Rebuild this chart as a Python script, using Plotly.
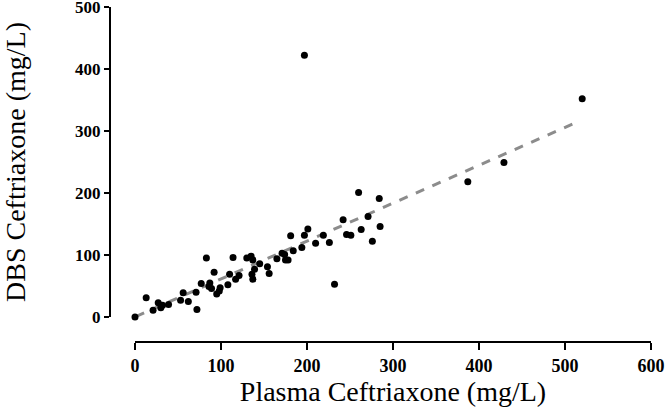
import plotly.graph_objects as go

# Scatter data: plasma vs DBS ceftriaxone (mg/L)
plasma = [0, 13, 21, 27, 30, 32, 39, 53, 56, 62, 71, 72, 77, 83, 86, 87, 89, 92, 95, 98,
          99, 108, 110, 114, 117, 121, 130, 135, 136, 137, 137, 139, 145, 154, 156, 165,
          171, 174, 175, 178, 181, 184, 194, 197, 197, 201, 210, 219, 226, 232, 242, 246,
          251, 260, 263, 271, 276, 284, 285, 387, 429, 520]
dbs = [0, 31, 11, 23, 15, 19, 20, 27, 39, 25, 40, 12, 54, 95, 49, 55, 46, 72, 37, 42,
       47, 52, 69, 96, 61, 67, 95, 98, 69, 92, 61, 77, 86, 81, 70, 94,
       103, 101, 92, 92, 131, 107, 112, 132, 422, 142, 119, 132, 120, 53, 157, 133,
       132, 201, 141, 162, 122, 191, 146, 218, 249, 352]

# Regression line end points
fit_x = [1, 515]
fit_y = [0.8, 315]

x_ticks = [0, 100, 200, 300, 400, 500, 600]
y_ticks = [0, 100, 200, 300, 400, 500]

fig = go.Figure()
fig.add_trace(go.Scatter(x=fit_x, y=fit_y, mode="lines",
                         line=dict(color="#8c8c8c", width=3, dash="dash"),
                         hoverinfo="skip", showlegend=False))
fig.add_trace(go.Scatter(x=plasma, y=dbs, mode="markers",
                         marker=dict(color="black", size=7),
                         cliponaxis=False, showlegend=False))

W, H = 666, 414
left, right, top, bottom = 110, 15, 7, 72
pw, ph = W - left - right, H - top - bottom
x0_px, y0_px = 135, 317
serif = "Liberation Serif, Times New Roman, serif"

fig.update_layout(
    width=W, height=H,
    margin=dict(l=left, r=right, t=top, b=bottom, pad=0, autoexpand=False),
    paper_bgcolor="white", plot_bgcolor="white",
    font=dict(family=serif, color="black"),
    xaxis=dict(
        domain=[(x0_px - left) / pw, 1], anchor="free", position=0, automargin=False,
        range=[0, 600], tickvals=x_ticks, ticktext=[f"<b>{v}</b>" for v in x_ticks],
        showgrid=False, zeroline=False, showline=True, linecolor="black", linewidth=2,
        ticks="outside", ticklen=7, tickwidth=2, tickcolor="black",
        ticklabeloverflow="allow",
        tickfont=dict(size=18, family=serif),
        title=dict(text="Plasma Ceftriaxone (mg/L)", font=dict(size=28), standoff=1),
    ),
    yaxis=dict(
        domain=[(top + ph - y0_px) / ph, 1], anchor="free", position=0, automargin=False,
        range=[0, 500], tickvals=y_ticks, ticktext=[f"<b>{v}</b>" for v in y_ticks],
        showgrid=False, zeroline=False, showline=True, linecolor="black", linewidth=2,
        ticks="outside", ticklen=5, tickwidth=2, tickcolor="black",
        ticklabeloverflow="allow",
        tickfont=dict(size=17, family=serif),
        title=dict(text="DBS Ceftriaxone (mg/L)", font=dict(size=28), standoff=47),
    ),
)

fig.write_html("out.html", config={"displayModeBar": False},
               post_script="document.body.style.margin='0';document.body.style.overflow='hidden';")
